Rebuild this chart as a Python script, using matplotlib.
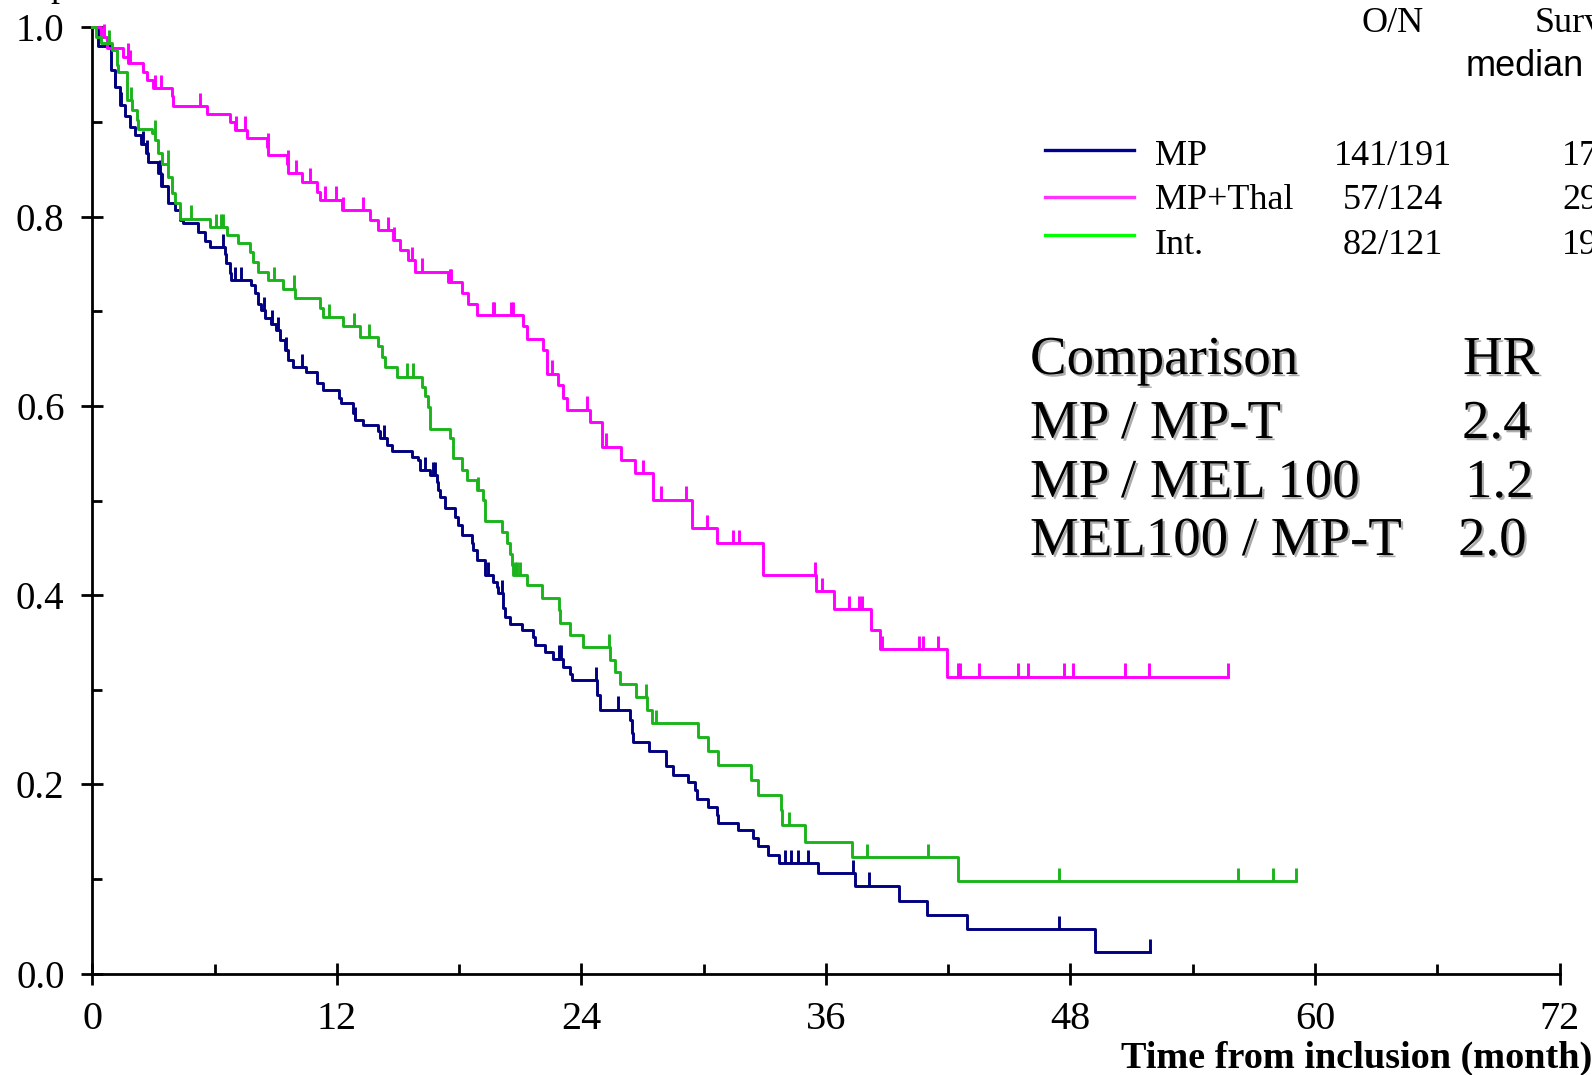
import numpy as np
import matplotlib
matplotlib.use("Agg")
import matplotlib.pyplot as plt
import matplotlib.patheffects as pe
from matplotlib.lines import Line2D

plt.rcParams['font.family'] = ['Liberation Serif', 'DejaVu Serif']

W, H = 1592, 1075

# ---- data ----------------------------------------------------------------
groups = ["MP", "MP+Thal", "Int."]
events = ["141/191", "57/124", "82/121"]
medians = ["17", "29", "19"]

mp_t = [0.27, 0.93, 1.09, 1.34, 1.58, 1.83, 2.07, 2.40, 2.65, 2.73, 3.22, 3.38,
        3.71, 4.04, 4.28, 4.45, 5.18, 5.51, 5.76, 6.49, 6.57, 6.74, 6.82, 7.80,
        7.97, 8.13, 8.29, 8.46, 8.78, 9.03, 9.19, 9.44, 9.60, 9.85, 10.50, 11.00,
        11.32, 12.10, 12.20, 12.80, 12.89, 13.30, 14.03, 14.12, 14.44, 14.69,
        15.67, 16.00, 16.08, 16.57, 16.90, 16.98, 17.06, 17.30, 17.80, 17.96,
        18.13, 18.62, 18.70, 18.86, 19.27, 19.68, 19.84, 19.92, 20.17, 20.25,
        20.50, 21.07, 21.64, 21.72, 22.21, 22.62, 23.11, 23.44, 23.52, 24.75,
        24.91, 26.39, 26.47, 26.55, 27.33, 28.15, 28.51, 29.25, 29.58, 29.66,
        30.23, 30.64, 30.72, 31.70, 32.41, 32.68, 33.17, 33.71, 35.63, 37.43,
        39.60, 40.98, 42.91, 49.21]
mp_s = [0.980, 0.955, 0.937, 0.918, 0.906, 0.895, 0.886, 0.877, 0.867, 0.858,
        0.846, 0.832, 0.814, 0.807, 0.796, 0.793, 0.784, 0.774, 0.768, 0.761,
        0.751, 0.740, 0.733, 0.728, 0.719, 0.708, 0.701, 0.693, 0.687, 0.680,
        0.670, 0.659, 0.649, 0.641, 0.636, 0.624, 0.617, 0.608, 0.603, 0.592,
        0.585, 0.580, 0.573, 0.566, 0.559, 0.552, 0.546, 0.543, 0.532, 0.527,
        0.520, 0.511, 0.504, 0.492, 0.483, 0.474, 0.464, 0.455, 0.448, 0.437,
        0.421, 0.414, 0.409, 0.402, 0.386, 0.377, 0.370, 0.363, 0.356, 0.347,
        0.340, 0.333, 0.324, 0.317, 0.310, 0.295, 0.279, 0.268, 0.254, 0.245,
        0.235, 0.219, 0.210, 0.203, 0.194, 0.185, 0.176, 0.168, 0.159, 0.152,
        0.143, 0.135, 0.125, 0.117, 0.106, 0.093, 0.077, 0.062, 0.047, 0.023]
mp_cens = [1.1, 1.4, 2.5, 2.7, 3.3, 3.4, 4.3, 6.4, 7.0, 7.3, 8.4, 8.8, 9.1, 9.5,
           10.3, 12.9, 14.3, 16.3, 16.7, 16.8, 19.4, 20.1, 22.9, 23.0, 24.7,
           25.8, 34.0, 34.3, 34.65, 35.1, 37.35, 38.1, 47.45, 51.9]

mpt_t = [0.40, 0.70, 1.52, 1.76, 2.50, 2.66, 2.99, 3.89, 3.97, 5.61, 6.75, 7.00,
         7.57, 8.55, 8.63, 9.53, 9.61, 10.27, 11.00, 11.17, 12.23, 13.62, 14.03,
         14.77, 15.10, 15.50, 15.83, 17.47, 18.13, 18.45, 18.86, 21.15, 21.31,
         22.13, 22.30, 22.87, 23.11, 23.28, 24.42, 25.00, 25.93, 26.63, 27.50,
         29.41, 30.64, 32.93, 35.53, 36.40, 38.20, 38.65, 41.93]
mpt_s = [0.990, 0.978, 0.969, 0.962, 0.953, 0.944, 0.936, 0.927, 0.917, 0.909,
         0.900, 0.892, 0.883, 0.874, 0.865, 0.856, 0.846, 0.837, 0.826, 0.818,
         0.807, 0.796, 0.786, 0.775, 0.765, 0.754, 0.742, 0.731, 0.719, 0.708,
         0.696, 0.684, 0.671, 0.659, 0.634, 0.622, 0.608, 0.596, 0.583, 0.557,
         0.543, 0.529, 0.501, 0.471, 0.455, 0.421, 0.404, 0.385, 0.363, 0.343,
         0.314]
mpt_cens = [0.55, 1.75, 1.85, 3.06, 3.35, 5.27, 7.07, 7.47, 8.6, 9.6, 10.0,
            10.66, 11.4, 11.97, 12.3, 13.28, 14.5, 14.8, 15.67, 16.2, 17.55,
            17.6, 19.65, 19.72, 20.55, 20.65, 22.54, 24.26, 25.2, 27.0, 27.9,
            29.13, 30.15, 31.42, 31.75, 35.46, 35.82, 37.15, 37.62, 37.76,
            38.74, 40.58, 40.78, 41.52, 42.5, 42.58, 43.53, 45.44, 45.93, 47.7,
            48.11, 50.68, 51.84, 55.75]

int_t = [0.20, 0.40, 0.95, 1.19, 1.27, 1.68, 1.93, 2.17, 2.25, 2.91, 3.07, 3.23,
         3.40, 3.73, 3.89, 4.05, 4.30, 5.77, 6.59, 7.15, 7.72, 7.88, 8.13, 8.62,
         9.35, 9.93, 11.16, 11.32, 12.30, 13.12, 14.03, 14.20, 14.36, 14.93,
         16.16, 16.32, 16.49, 16.57, 17.55, 17.71, 18.12, 18.37, 18.86, 19.19,
         19.27, 20.09, 20.33, 20.50, 20.58, 20.66, 21.31, 22.05, 22.92, 22.96,
         23.44, 24.10, 25.40, 25.65, 25.90, 26.68, 27.23, 27.45, 29.74, 30.23,
         30.69, 32.31, 32.68, 33.78, 33.83, 34.97, 37.27, 42.50]
int_s = [0.990, 0.983, 0.976, 0.960, 0.953, 0.923, 0.913, 0.902, 0.893, 0.888,
         0.881, 0.867, 0.856, 0.842, 0.825, 0.814, 0.798, 0.789, 0.781, 0.772,
         0.763, 0.752, 0.742, 0.733, 0.724, 0.714, 0.703, 0.694, 0.684, 0.673,
         0.663, 0.652, 0.641, 0.631, 0.620, 0.610, 0.599, 0.576, 0.566, 0.545,
         0.532, 0.522, 0.511, 0.501, 0.478, 0.467, 0.455, 0.444, 0.432, 0.421,
         0.411, 0.397, 0.384, 0.371, 0.358, 0.345, 0.332, 0.319, 0.306, 0.292,
         0.279, 0.265, 0.250, 0.235, 0.221, 0.205, 0.189, 0.173, 0.157, 0.139,
         0.123, 0.098]
int_cens = [0.8, 1.9, 3.05, 3.7, 4.85, 6.08, 6.33, 6.41, 8.9, 9.9, 11.6, 12.84,
            13.59, 15.46, 15.75, 18.93, 20.74, 20.82, 21.0, 25.37, 27.17, 27.66,
            34.2, 38.03, 41.0, 47.45, 56.24, 57.93, 59.06]

comparisons = ["Comparison", "MP / MP-T", "MP / MEL 100", "MEL100 / MP-T"]
hr_values = ["HR", "2.4", "1.2", "2.0"]

curve_colors = ["#000080", "#ff00ff", "#1cb41c"]
legend_colors = ["#000090", "#ff33ff", "#00ff00"]


def fx(x):
    return x / W


def fy(y):
    return 1 - y / H


fig = plt.figure(figsize=(W / 100, H / 100), dpi=100)
ax = fig.add_axes([fx(92.4), fy(973.7), (1559.5 - 92.4) / W, (973.7 - 27.4) / H])

series = [(mp_t, mp_s, mp_cens), (mpt_t, mpt_s, mpt_cens), (int_t, int_s, int_cens)]
for (t, s, cens), col in zip(series, curve_colors):
    t = np.r_[0.0, t]
    s = np.r_[1.0, s]
    t_end = max(cens)
    ax.step(np.r_[t, t_end], np.r_[s, s[-1]], where="post", color=col, lw=2.1,
            clip_on=False, zorder=3)
    cens = np.asarray(cens)
    lev = s[np.searchsorted(t, cens, side="right") - 1]
    ax.vlines(cens, lev, lev + 0.014, color=col, lw=2.1, clip_on=False, zorder=3)

ax.set_xlim(0, 72)
ax.set_ylim(0, 1)
for side in ("top", "right"):
    ax.spines[side].set_visible(False)
for side in ("left", "bottom"):
    ax.spines[side].set_linewidth(2.0)

ax.set_xticks(np.arange(0, 73, 12))
ax.set_xticks(np.arange(6, 72, 12), minor=True)
ax.set_yticks(np.arange(0, 1.01, 0.2))
ax.set_yticks(np.arange(0.1, 1.0, 0.2), minor=True)
ax.set_yticklabels([f"{v:.1f}" for v in np.arange(0, 1.01, 0.2)])
ax.tick_params(which="major", direction="inout", length=16, width=2.0, pad=12)
ax.tick_params(axis="y", which="major", labelsize=28)
ax.tick_params(axis="x", which="major", labelsize=29, pad=12)
ax.tick_params(which="minor", direction="in", length=7, width=2.0)

# fragment of a label cut off by the top edge
fig.text(fx(50), 1 + 4.5 / H, "p", fontsize=26, va="baseline", ha="left")

# legend / table
fig.text(fx(1393), fy(31.7), "O/N", fontsize=26, ha="center", va="baseline")
fig.text(fx(1535), fy(31.7), "Survival", fontsize=26, ha="left", va="baseline")
fig.text(fx(1466), fy(76), "median", fontsize=26, ha="left", va="baseline",
         family="Liberation Sans")
line_y = [149.7, 197, 234.7]
text_y = [165, 209.3, 254]
for name, ev, med, lc, ly, ty in zip(groups, events, medians, legend_colors,
                                     line_y, text_y):
    fig.add_artist(Line2D([fx(1045), fx(1134)], [fy(ly), fy(ly)], color=lc, lw=2.4))
    fig.text(fx(1155), fy(ty), name, fontsize=26, va="baseline", ha="left")
    fig.text(fx(1393), fy(ty), ev, fontsize=26, va="baseline", ha="center")
    fig.text(fx(1562), fy(ty), med, fontsize=26, va="baseline", ha="left")

shadow = [pe.withSimplePatchShadow(offset=(1.6, -1.6), shadow_rgbFace="0.45",
                                   alpha=0.6)]
comp_y = [374, 438, 497, 555]
hr_x = [1463, 1462, 1465, 1458]
for lab, hr, cy, hx in zip(comparisons, hr_values, comp_y, hr_x):
    fig.text(fx(1030), fy(cy), lab, fontsize=39.5, va="baseline", ha="left",
             path_effects=shadow)
    fig.text(fx(hx), fy(cy), hr, fontsize=39.5, va="baseline", ha="left",
             path_effects=shadow)

fig.text(fx(1592), fy(1068), "Time from inclusion (month)", fontsize=27.5,
         fontweight="bold", ha="right", va="baseline")

fig.savefig("out.png", dpi=100)
